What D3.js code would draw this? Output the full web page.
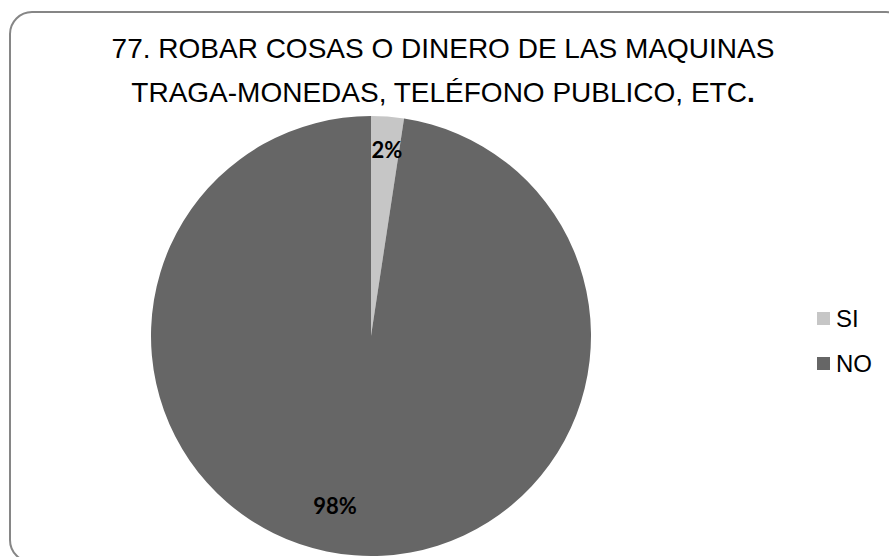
<!DOCTYPE html>
<html>
<head>
<meta charset="utf-8">
<script src="https://cdn.jsdelivr.net/npm/d3@7"></script>
<style>
  html, body { margin: 0; padding: 0; background: #fff; }
  svg { display: block; }
</style>
</head>
<body>
<div id="chart"></div>
<script>
// data
var categories = ["SI", "NO"];
var values = [2.4, 97.6];
var labels = ["2%", "98%"];
var colors = ["#c6c6c6", "#666666"];
var titleLines = ["77. ROBAR COSAS O DINERO DE LAS MAQUINAS", "TRAGA-MONEDAS, TELÉFONO PUBLICO, ETC"];

var width = 889, height = 557;

var svg = d3.select("#chart").append("svg")
    .attr("width", width)
    .attr("height", height);

// frame (runs off the right and bottom edge like the original)
svg.append("rect")
    .attr("x", 10).attr("y", 12)
    .attr("width", 898).attr("height", 550)
    .attr("rx", 22).attr("ry", 22)
    .attr("fill", "#fff")
    .attr("stroke", "#868686")
    .attr("stroke-width", 2);

// title
var title = svg.append("g").attr("font-family", "Liberation Sans, Arial, sans-serif")
    .attr("font-size", 28).attr("fill", "#000").attr("text-anchor", "middle");
title.append("text").attr("x", 443).attr("y", 58).text(titleLines[0]);
var t2 = title.append("text").attr("x", 443).attr("y", 102);
t2.append("tspan").text(titleLines[1]);
t2.append("tspan").attr("font-weight", "bold").text(".");

// pie
var cx = 371, cy = 336, r = 220;
var pie = d3.pie().sort(null).value(function (d) { return d; });
var arc = d3.arc().innerRadius(0).outerRadius(r);
var labelArc = d3.arc().innerRadius(r * 0.84).outerRadius(r * 0.84);

var g = svg.append("g").attr("transform", "translate(" + cx + "," + cy + ")");
var arcs = pie(values);

g.selectAll("path.slice")
    .data(arcs).enter()
    .append("path")
    .attr("class", "slice")
    .attr("d", arc)
    .attr("fill", function (d, i) { return colors[i]; });

// excel's best-fit label placement, roughly
var nudge = [[2, -1], [-22, -14]];
g.selectAll("text.lbl")
    .data(arcs).enter()
    .append("text")
    .attr("class", "lbl")
    .attr("transform", function (d, i) {
        var c = labelArc.centroid(d);
        return "translate(" + (c[0] + nudge[i][0]) + "," + (c[1] + nudge[i][1]) + ")";
    })
    .attr("dy", "0.35em")
    .attr("text-anchor", "middle")
    .attr("font-family", "Lato, Carlito, Calibri, sans-serif")
    .attr("font-weight", "bold")
    .attr("font-size", 22)
    .attr("fill", "#000")
    .text(function (d, i) { return labels[i]; });

// legend
var legend = svg.append("g").attr("transform", "translate(817,312)");
var item = legend.selectAll("g")
    .data(categories).enter()
    .append("g")
    .attr("transform", function (d, i) { return "translate(0," + (i * 45) + ")"; });
item.append("rect")
    .attr("width", 13).attr("height", 13)
    .attr("fill", function (d, i) { return colors[i]; });
item.append("text")
    .attr("x", 19).attr("y", 15)
    .attr("font-family", "Liberation Sans, Arial, sans-serif")
    .attr("font-size", 24)
    .attr("fill", "#000")
    .text(function (d) { return d; });
</script>
</body>
</html>
